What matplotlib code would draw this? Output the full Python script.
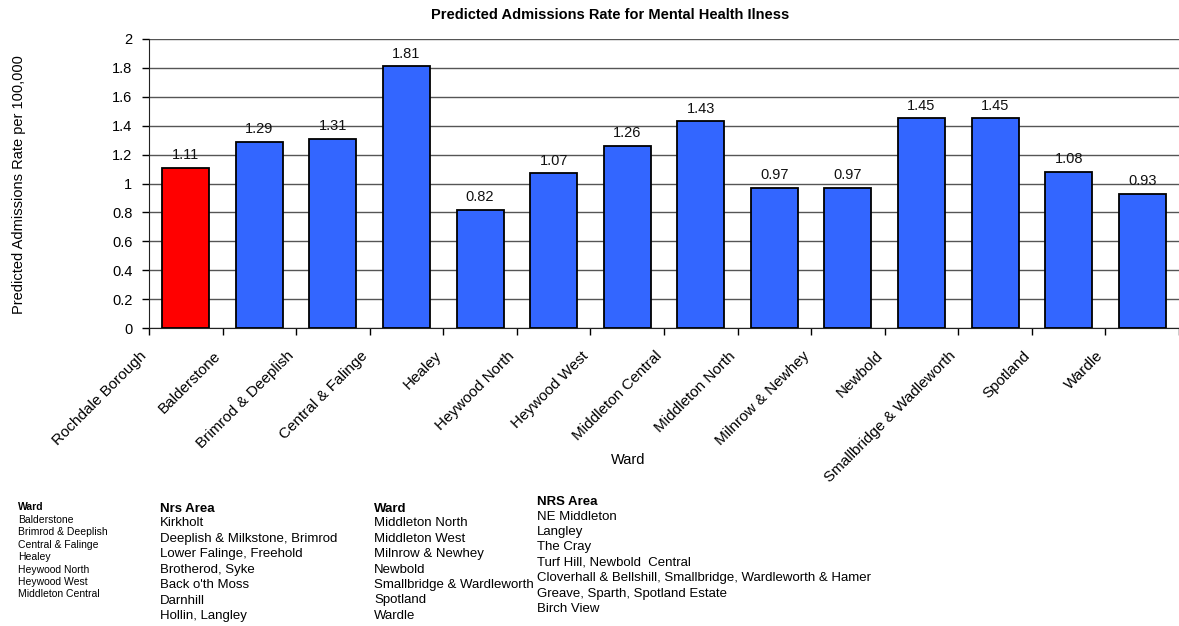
import numpy as np
import matplotlib.pyplot as plt
from matplotlib.transforms import ScaledTranslation

plt.rcParams['font.family'] = ['Liberation Sans', 'DejaVu Sans']

# chart data
wards = ['Rochdale Borough', 'Balderstone', 'Brimrod & Deeplish', 'Central & Falinge',
         'Healey', 'Heywood North', 'Heywood West', 'Middleton Central',
         'Middleton North', 'Milnrow & Newhey', 'Newbold', 'Smallbridge & Wadleworth',
         'Spotland', 'Wardle']
rates = [1.11, 1.29, 1.31, 1.81, 0.82, 1.07, 1.26, 1.43, 0.97, 0.97, 1.45, 1.45, 1.08, 0.93]

# lookup table printed under the chart
ward_list_a = ['Balderstone', 'Brimrod & Deeplish', 'Central & Falinge', 'Healey',
               'Heywood North', 'Heywood West', 'Middleton Central']
nrs_list_a = ['Kirkholt', 'Deeplish & Milkstone, Brimrod', 'Lower Falinge, Freehold',
              'Brotherod, Syke', "Back o'th Moss", 'Darnhill', 'Hollin, Langley']
ward_list_b = ['Middleton North', 'Middleton West', 'Milnrow & Newhey', 'Newbold',
               'Smallbridge & Wardleworth', 'Spotland', 'Wardle']
nrs_list_b = ['NE Middleton', 'Langley', 'The Cray', 'Turf Hill, Newbold  Central',
              'Cloverhall & Bellshill, Smallbridge, Wardleworth & Hamer',
              'Greave, Sparth, Spotland Estate', 'Birch View']

W, H = 1179, 626
fig = plt.figure(figsize=(W / 100, H / 100), dpi=100)
ax = fig.add_axes([149 / W, 1 - 328 / H, 1030 / W, 289 / H])

x = np.arange(len(wards))
colors = ['#FF0000'] + ['#3366FF'] * (len(wards) - 1)
bars = ax.bar(x, rates, width=0.64, color=colors, edgecolor='black', linewidth=1.3, zorder=3)

for rect, v in zip(bars, rates):
    ax.annotate(f'{v:.2f}', xy=(rect.get_x() + rect.get_width() / 2, v),
                xytext=(0, 4), textcoords='offset points',
                ha='center', va='bottom', fontsize=10.5, color='#111111')

ax.set_xlim(-0.5, len(wards) - 0.5)
ax.set_ylim(0, 2)
yt = np.arange(0, 2.01, 0.2)
ax.set_yticks(yt)
ax.set_yticklabels([f'{v:g}' for v in yt], fontsize=10.5)
ax.tick_params(axis='y', direction='out', length=5, width=1, pad=7)

# tick marks between categories, labels at category centres
ax.set_xticks(np.arange(-0.5, len(wards)), labels=[])
ax.set_xticks(x, labels=wards, minor=True)
ax.tick_params(axis='x', which='major', direction='out', length=5, width=1)
ax.tick_params(axis='x', which='minor', length=0, pad=15, labelsize=11)
shift = ScaledTranslation(-46 / 100, 0, fig.dpi_scale_trans)
for lab in ax.get_xticklabels(minor=True):
    lab.set_rotation(45)
    lab.set_ha('right')
    lab.set_va('top')
    lab.set_rotation_mode('anchor')
    lab.set_transform(lab.get_transform() + shift)

ax.yaxis.grid(True, color='#555555', linewidth=1, zorder=0)
ax.set_axisbelow(True)
ax.spines['top'].set_visible(False)
ax.spines['right'].set_visible(False)
ax.spines['left'].set_color('#222222')
ax.spines['bottom'].set_color('#222222')

def fx(px):
    return px / W

def fy(py):
    return 1 - py / H

fig.text(fx(610), fy(15), 'Predicted Admissions Rate for Mental Health Ilness',
         ha='center', va='center', fontsize=10.5, fontweight='bold')
fig.text(fx(19), fy(185), 'Predicted Admissions Rate per 100,000',
         ha='center', va='center', rotation=90, fontsize=10.5)
fig.text(fx(628), fy(460), 'Ward', ha='center', va='center', fontsize=10.5)

def column(xp, y0, step, header, items, size):
    fig.text(fx(xp), fy(y0), header, ha='left', va='center', fontsize=size, fontweight='bold')
    for i, t in enumerate(items):
        fig.text(fx(xp), fy(y0 + (13 if size < 8 else 14.5) + i * step), t,
                 ha='left', va='center', fontsize=size)

column(18, 507, 12.4, 'Ward', ward_list_a, 7.5)
column(160, 509, 15.4, 'Nrs Area', nrs_list_a, 9.5)
column(374, 509, 15.4, 'Ward', ward_list_b, 9.5)
column(537, 502, 15.4, 'NRS Area', nrs_list_b, 9.5)

fig.savefig('out.png', dpi=100)
